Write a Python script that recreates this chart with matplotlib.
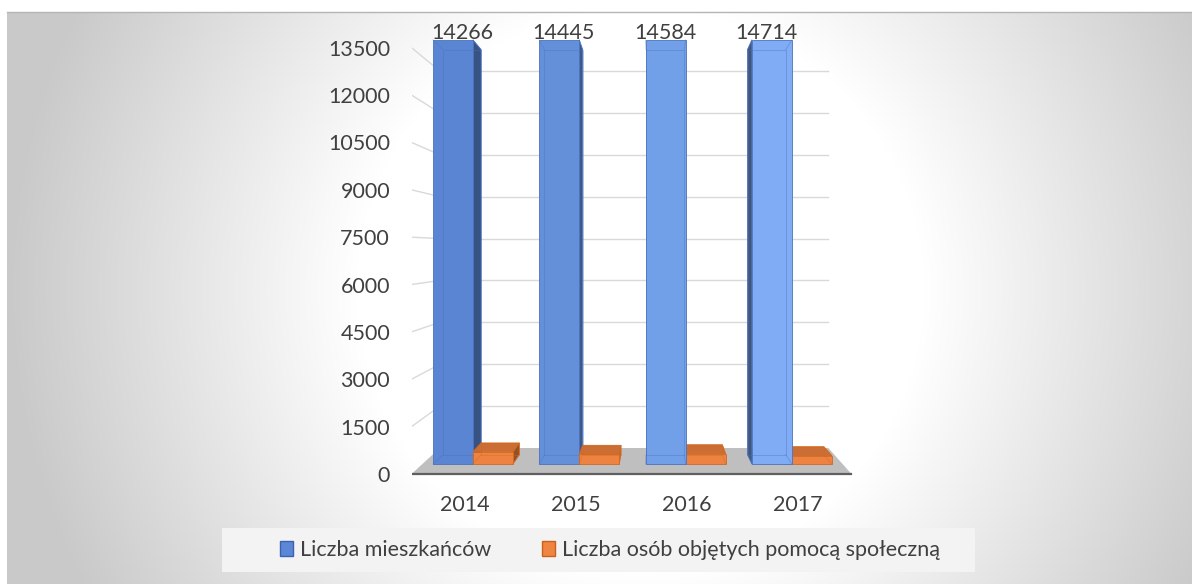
import numpy as np
import matplotlib
matplotlib.use('Agg')
import matplotlib.pyplot as plt
from matplotlib.patches import Polygon, Patch, Rectangle

# dane
years = ['2014', '2015', '2016', '2017']
mieszkancy = [14266, 14445, 14584, 14714]
pomoc = [390, 310, 330, 265]
y_ticks = [0, 1500, 3000, 4500, 6000, 7500, 9000, 10500, 12000, 13500]
series_names = ['Liczba mieszkańców', 'Liczba osób objętych pomocą społeczną']

plt.rcParams['font.family'] = ['Lato', 'DejaVu Sans']
TXT = '#404040'
FS = 15.5

W, H = 1192, 584
fig = plt.figure(figsize=(W / 100, H / 100), dpi=100)

# tlo - gradient radialny
bg = fig.add_axes([0, 0, 1, 1], zorder=-5)
yy, xx = np.mgrid[0:H, 0:W]
r = np.hypot(xx - 640, yy - 290) / 630.0
c = 1 - 0.21 * np.clip((r - 0.45) / 0.55, 0, 1)
c[(xx < 7) | (yy < 12)] = 1.0
bg.imshow(np.dstack([c, c, c]), extent=(0, W, H, 0), aspect='auto', interpolation='bilinear')
bg.plot([7, W], [12, 12], color='#b4b4b4', lw=1)
# tlo legendy
bg.add_patch(Rectangle((222, 528), 753, 44, fc='#f3f3f3', ec='none'))
bg.set_xlim(0, W)
bg.set_ylim(H, 0)
bg.axis('off')

# os glowna: plaszczyzna przednich scian slupkow
PX0, PXS = 473, 106.3      # px grupy 0, px na kategorie
PY0, PYS = 464, 0.03141    # px wartosci 0, px na jednostke
L, R, T, B = 412, 900, 12, 480
ax = fig.add_axes([L / W, 1 - B / H, (R - L) / W, (B - T) / H])
ax.set_xlim((L - PX0) / PXS, (R - PX0) / PXS)
ax.set_ylim((PY0 - B) / PYS, (PY0 - T) / PYS)
ax.patch.set_alpha(0)
for s in ax.spines.values():
    s.set_visible(False)

# perspektywa
XC, YC = 1.7, 6622
BAR_D = 0.955
YMAX = y_ticks[-1]


def depth(x, y, s=BAR_D):
    return XC + s * (x - XC), YC + s * (y - YC)


def front_pt(x, v):
    return XC + 1.045 * (x - XC), -318 + 1.0053 * v


def back_pt(x, v):
    return XC + 0.923 * (x - XC), 509 + 0.8891 * v


n = len(years)
lo, hi = -0.48, n - 1 + 0.48

# podloga
floor = [front_pt(lo, 0), front_pt(hi, 0), back_pt(hi, 0), back_pt(lo, 0)]
ax.add_patch(Polygon(floor, closed=True, fc='#bfbfbf', ec='none', zorder=1))
ax.plot([floor[0][0], floor[1][0]], [floor[0][1], floor[1][1]], color='#5f5f5f', lw=1.6, zorder=1.5)

# siatka
for v in y_ticks[1:]:
    f = front_pt(lo, v)
    b0 = back_pt(lo, v)
    b1 = back_pt(hi, v)
    ax.plot([f[0], b0[0]], [f[1], b0[1]], color='#d9d9d9', lw=1, zorder=0.5)
    ax.plot([b0[0], b1[0]], [b0[1], b1[1]], color='#d9d9d9', lw=1, zorder=0.5)


def shade(col, k):
    rgb = np.array(matplotlib.colors.to_rgb(col))
    return tuple(rgb * k)


def draw_box(x0, x1, v, face, edge, z):
    v = min(v, YMAX)  # slupki obciete na maksimum osi
    f = [(x0, 0), (x1, 0), (x1, v), (x0, v)]
    b = [depth(x, y) for x, y in f]
    if x1 < XC:
        ax.add_patch(Polygon([f[1], f[2], b[2], b[1]], fc=shade(face, 0.62), ec=edge, lw=0.6, zorder=z))
    if x0 > XC:
        ax.add_patch(Polygon([f[0], f[3], b[3], b[0]], fc=shade(face, 0.5), ec=edge, lw=0.6, zorder=z))
    if v < YC:
        ax.add_patch(Polygon([f[3], f[2], b[2], b[3]], fc=shade(face, 0.85), ec=edge, lw=0.6, zorder=z))
    ax.bar(x0, v, width=x1 - x0, align='edge', color=face, edgecolor=edge, lw=0.6, zorder=z + 0.1)
    # krawedzie tylne widoczne przez sciane
    bx = [p[0] for p in b] + [b[0][0]]
    by = [p[1] for p in b] + [b[0][1]]
    ax.plot(bx, by, color=edge, lw=0.6, alpha=0.45, zorder=z + 0.2)
    for p, q in zip(f, b):
        ax.plot([p[0], q[0]], [p[1], q[1]], color=edge, lw=0.6, alpha=0.45, zorder=z + 0.2)


BW = 0.376
blue_faces = ['#5a85d3', '#6490da', '#72a0e8', '#80acf5']
orange_face = '#ee8240'
for i in range(n):
    boxes = [(i - BW, i, mieszkancy[i], blue_faces[i], '#4a72bd'),
             (i, i + BW, pomoc[i], orange_face, '#d2691e')]
    boxes.sort(key=lambda bx: -abs((bx[0] + bx[1]) / 2 - XC))
    for k, (x0, x1, v, fc, ec) in enumerate(boxes):
        draw_box(x0, x1, v, fc, ec, 3 + 2 * k)
    top = min(mieszkancy[i], YMAX)
    lx = depth(i - BW / 2, top)[0]
    ax.annotate(str(mieszkancy[i]), xy=(lx, top), xytext=(0, 1),
                textcoords='offset pixels', ha='center', va='baseline',
                fontsize=FS, color=TXT, zorder=10)

ax.set_yticks([front_pt(0, v)[1] for v in y_ticks], labels=[str(v) for v in y_ticks])
ax.set_xticks([front_pt(i, 0)[0] for i in range(n)], labels=years)
ax.tick_params(axis='y', length=0, pad=15.8, labelsize=FS, labelcolor=TXT)
ax.tick_params(axis='x', length=0, pad=11, labelsize=FS, labelcolor=TXT)

handles = [Patch(fc='#5b87d6', ec='#3a62b0', lw=1), Patch(fc='#ee8540', ec='#c9601c', lw=1)]
leg = fig.legend(handles=handles, labels=series_names, loc='center',
                 bbox_to_anchor=(610 / W, 1 - 550 / H), ncol=2, frameon=False,
                 fontsize=FS, handlelength=0.6, handleheight=0.65,
                 handletextpad=0.3, columnspacing=2.4, borderpad=0.3,
                 labelcolor=TXT)

fig.savefig('out.png', dpi=100)
